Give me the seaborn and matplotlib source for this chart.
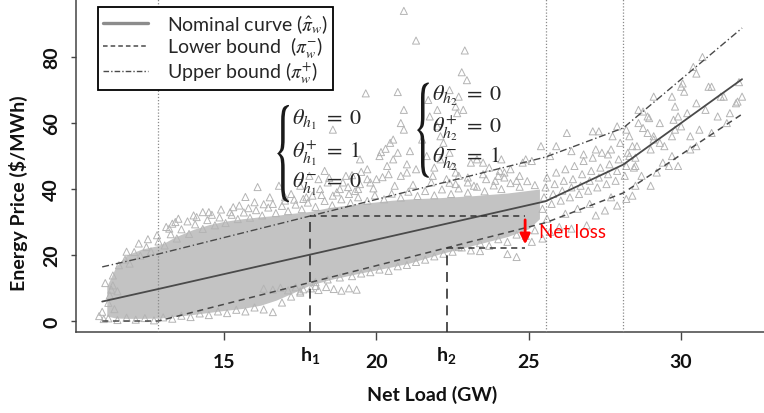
import matplotlib

matplotlib.use("Agg")

import matplotlib.pyplot as plt
import pandas as pd
import seaborn as sns
from matplotlib.font_manager import FontProperties
from matplotlib.lines import Line2D
from matplotlib.patches import PathPatch
from matplotlib.textpath import TextPath
from matplotlib.transforms import Affine2D

# piecewise price curves, knots at the dotted lines (GW, $/MWh)
BREAK_X = [11.0, 12.84, 25.55, 28.1, 32.0]
NOMINAL_Y = [5.9, 9.7, 36.3, 47.4, 73.3]
LOWER_Y = [0.0, 0.0, 29.8, 38.8, 62.7]
UPPER_Y = [16.4, 20.3, 49.7, 58.5, 88.8]

KNOTS = [12.84, 25.55, 28.1]
H1, H2 = 17.82, 22.3
H1_UPPER = 31.8
H2_LOWER = 22.1
LOSS_X = 24.88

X_TICKS = [15, 20, 25, 30]
Y_TICKS = [0, 20, 40, 60, 80]

# dense part of the scatter cloud (envelope)
CORE_X = [11.15, 11.45, 11.8, 12.3, 12.9, 13.4, 14.0, 14.5, 15.0, 15.6, 16.2, 16.7,
          17.2, 17.8, 18.5, 19.5, 20.5, 21.1, 22.1, 23.2, 24.3, 25.0, 25.35]
CORE_LO = [1.5, 0.9, 0.8, 0.8, 0.9, 1.4, 2.0, 2.6, 3.2, 3.8, 4.8, 6.3,
           8.3, 10.8, 12.6, 14.6, 16.4, 17.6, 20.4, 23.0, 25.6, 28.0, 31.0]
CORE_HI = [10.5, 16.5, 20.0, 21.8, 23.0, 25.5, 27.8, 29.2, 30.2, 31.0, 31.6, 32.0,
           32.6, 33.2, 34.5, 35.6, 36.6, 37.0, 37.4, 38.0, 38.8, 39.6, 40.0]

# individual observations (net load GW, price $/MWh)
PTS_LEFT = [(10.9, 1.5), (11.0, 2.8), (11.05, 0.6), (11.2, 5.5), (11.3, 9.5), (11.35, 10.8),
            (11.5, 9.0), (11.1, 11.5), (11.25, 7.8), (11.4, 3.6), (11.8, 21.0), (12.2, 23.5),
            (12.5, 24.8), (12.8, 26.0)]
PTS_TOP = [(11.35, 13.8), (11.55, 16.9), (11.75, 18.6), (11.9, 17.4), (12.05, 20.9), (12.25, 19.8),
           (12.45, 22.4), (12.6, 21.1), (12.85, 24.1), (13.05, 22.9), (13.25, 26.3), (13.45, 25.0),
           (13.6, 27.8), (13.85, 26.4), (14.05, 29.3), (14.3, 27.9), (14.45, 30.6), (14.7, 29.0),
           (14.85, 31.4), (15.05, 29.7), (15.25, 32.2), (15.45, 30.9), (15.65, 32.9), (15.85, 31.3),
           (16.05, 33.6), (16.25, 32.0), (16.45, 34.4), (16.7, 32.7), (16.9, 34.9), (17.1, 33.3),
           (17.35, 35.3), (17.55, 33.9), (17.75, 35.9), (18.0, 34.6), (18.3, 36.4), (18.55, 35.1),
           (18.85, 36.9), (19.15, 35.8), (19.4, 37.5), (19.7, 36.4), (19.95, 38.1), (20.25, 36.9),
           (20.5, 38.6), (20.8, 37.4), (21.05, 39.2), (21.35, 37.9), (21.6, 39.4), (21.9, 38.1),
           (22.15, 39.9), (22.45, 38.5), (22.7, 40.2), (23.0, 38.9), (23.3, 40.7), (23.55, 39.3),
           (23.85, 41.1), (24.1, 40.0), (24.4, 41.8), (24.7, 40.7), (24.95, 42.4), (25.2, 41.2)]
PTS_ABOVE = [(13.2, 28.0), (13.4, 30.0), (14.0, 32.0), (14.5, 33.0), (15.3, 34.5), (15.7, 37.6),
             (16.1, 40.6), (16.6, 35.5), (16.8, 41.0), (17.0, 37.5), (17.2, 38.5), (17.5, 41.0),
             (17.6, 37.0), (17.8, 44.0), (17.9, 38.0), (18.1, 43.0), (18.15, 40.0), (18.4, 42.0),
             (18.45, 43.4), (18.57, 38.0), (18.8, 40.0), (18.9, 42.0), (19.0, 44.0), (19.07, 40.6),
             (19.1, 38.5), (19.2, 44.2), (19.4, 40.0), (19.46, 41.5), (19.46, 49.0), (19.7, 43.0),
             (19.7, 46.0), (19.8, 42.0), (20.0, 43.0), (20.1, 50.0), (20.15, 51.2), (20.2, 43.6),
             (20.3, 52.2), (20.35, 47.0), (20.4, 44.5), (20.45, 54.0), (20.55, 49.0), (20.55, 55.0),
             (20.7, 51.0), (20.8, 44.0), (20.8, 60.0), (21.0, 45.0), (21.1, 51.5), (21.3, 46.0),
             (21.5, 55.0), (21.65, 50.0), (21.85, 44.0), (22.0, 59.0), (22.1, 49.0), (22.1, 56.0),
             (22.2, 54.0), (22.3, 43.0), (22.4, 51.0), (22.5, 47.0), (22.6, 45.0), (22.6, 41.5),
             (22.7, 44.0), (23.0, 42.0), (23.1, 48.0), (23.2, 41.0), (23.3, 49.0), (23.5, 48.0),
             (23.6, 43.0), (23.9, 42.5), (24.0, 44.0), (24.05, 45.5), (24.1, 49.0), (24.2, 43.5),
             (24.4, 46.0), (24.6, 42.5), (24.8, 48.0), (24.9, 49.0), (25.1, 48.5), (25.4, 53.0),
             (25.7, 50.0), (25.9, 53.0), (13.1, 28.5), (13.3, 29.5), (13.5, 31.0), (13.8, 30.2),
             (14.1, 31.5), (14.3, 33.0), (14.6, 32.2), (14.9, 33.8), (15.2, 33.0), (15.5, 35.0),
             (15.8, 34.2), (16.0, 36.0), (16.3, 35.4), (16.5, 37.5), (17.0, 36.5), (17.3, 36.8),
             (17.7, 37.5), (18.2, 38.2), (18.7, 39.0), (19.3, 39.4), (19.9, 40.2), (20.6, 41.0),
             (21.2, 41.3), (21.8, 42.0), (22.4, 41.9), (23.0, 43.5), (23.5, 44.5), (24.2, 45.0),
             (24.7, 44.0), (19.5, 45.2), (21.0, 47.5), (21.9, 46.5), (23.7, 46.5), (18.3, 45.5)]
PTS_HIGH = [(18.57, 58.0), (19.65, 69.0), (20.7, 69.4), (20.9, 58.0), (20.9, 64.0), (20.9, 94.0),
            (21.3, 85.0), (21.7, 67.0), (21.75, 62.0), (22.0, 64.0), (22.4, 70.0), (22.6, 65.0),
            (22.65, 63.0), (22.7, 68.0), (22.8, 75.4), (22.85, 64.0), (22.9, 82.0), (22.97, 73.0)]
PTS_BOTTOM = [(11.2, 0.8), (11.5, 0.3), (11.8, 1.0), (12.1, 0.4), (12.4, 0.9), (12.7, 0.2),
              (13.0, 1.1), (13.3, 0.7), (13.6, 1.6), (13.9, 1.2), (14.2, 2.3), (14.5, 1.8),
              (14.8, 2.9), (15.1, 2.4), (15.4, 3.4), (15.7, 2.9), (16.0, 4.1), (16.3, 3.5),
              (16.6, 2.7), (16.9, 5.6), (17.2, 7.4), (17.5, 8.6), (18.0, 11.8), (18.4, 12.6),
              (18.8, 13.2), (19.2, 13.6), (19.5, 14.4), (19.8, 14.8), (20.1, 15.6), (20.4, 15.2),
              (20.7, 16.6), (21.0, 17.0), (21.3, 17.9), (21.6, 18.6), (21.9, 19.6), (22.2, 20.4),
              (22.5, 21.0), (22.8, 22.3), (23.1, 21.4), (23.4, 23.6), (23.7, 22.8), (24.0, 24.8),
              (24.3, 24.0), (24.6, 26.2), (24.9, 25.8), (25.2, 27.5), (24.3, 20.3), (24.6, 19.4),
              (23.4, 21.2), (22.7, 22.4)]
PTS_TAIL = [(16.3, 9.8), (16.6, 9.5), (16.85, 10.1), (17.1, 9.3), (17.35, 10.2), (17.6, 9.6),
            (17.85, 9.9), (18.1, 9.4), (18.35, 10.3), (18.6, 9.7), (18.85, 9.2), (19.1, 9.9),
            (19.35, 9.5), (17.5, 9.0), (18.0, 10.6)]
PTS_RIGHT = [(25.45, 34.0), (25.5, 37.5), (25.55, 40.5), (25.6, 43.5), (25.75, 35.5), (25.8, 38.5),
             (25.85, 41.5), (25.9, 45.0), (26.05, 36.5), (26.1, 39.5), (26.15, 42.5), (26.2, 46.0),
             (26.35, 37.5), (26.4, 40.5), (26.45, 43.0), (26.5, 47.0), (26.65, 38.5), (26.7, 41.0),
             (26.75, 44.5), (26.8, 48.5), (26.95, 39.5), (27.0, 42.5), (27.05, 45.5), (27.1, 49.5),
             (27.25, 40.5), (27.3, 43.5), (27.35, 46.5), (27.4, 51.0), (27.55, 41.5), (27.6, 44.5),
             (27.65, 47.5), (27.7, 52.0), (27.85, 42.5), (27.9, 45.5), (27.95, 49.0), (28.0, 54.0),
             (28.15, 44.0), (28.2, 47.0), (28.25, 51.0), (28.3, 56.0), (28.45, 46.5), (28.5, 49.5),
             (28.55, 53.0), (26.25, 57.0), (27.1, 57.5), (27.3, 57.5), (27.75, 56.0), (26.4, 51.5),
             (26.8, 50.5), (27.2, 52.0), (27.6, 50.5), (25.1, 24.0), (25.45, 25.0), (25.7, 27.0),
             (26.0, 28.5), (26.4, 28.0), (26.9, 29.0), (27.2, 32.0), (27.5, 33.5), (27.9, 35.0),
             (28.2, 37.0), (28.4, 38.0), (25.6, 31.0), (26.2, 32.5), (26.6, 34.0), (27.0, 35.5),
             (27.7, 37.5)]
PTS_FAR = [(28.6, 64.0), (28.75, 63.5), (28.9, 62.0), (28.95, 61.5), (28.6, 60.0), (28.75, 58.5),
           (28.9, 57.0), (29.1, 56.0), (29.3, 54.0), (29.45, 53.0), (29.1, 55.0), (30.0, 59.0),
           (30.3, 56.0), (30.5, 53.0), (29.7, 50.0), (29.4, 48.0), (29.9, 47.0), (29.2, 45.0),
           (29.0, 41.0), (29.1, 68.0), (29.7, 68.0), (29.8, 65.0), (29.9, 62.0), (29.75, 61.0),
           (29.8, 58.0), (29.7, 56.0), (30.05, 72.0), (30.1, 69.5), (30.0, 71.0), (30.4, 77.0),
           (30.5, 75.0), (30.7, 80.0), (30.8, 64.0), (30.9, 71.0), (31.0, 71.0), (31.3, 68.0),
           (31.4, 68.0), (31.8, 66.0), (31.85, 66.5), (31.9, 72.4), (32.0, 68.0), (30.5, 66.0),
           (30.2, 63.0), (31.2, 62.0), (31.5, 60.0), (30.6, 58.0), (31.0, 57.0), (31.6, 63.0),
           (30.3, 52.0), (29.6, 47.0), (28.5, 41.0), (28.7, 44.0), (28.3, 50.0), (28.5, 47.0),
           (28.4, 53.0), (29.3, 60.0), (29.0, 52.0), (28.2, 58.0), (27.9, 59.0)]


def draw_brace(ax, x_left, x_right, y_top, y_bot):
    tp = TextPath((0, 0), "{", size=30, prop=FontProperties(family="STIXGeneral"))
    bb = tp.get_extents()
    (x0, y0), (x1, y1) = ax.transData.transform([(x_left, y_bot), (x_right, y_top)])
    tr = (Affine2D().translate(-bb.x0, -bb.y0)
          .scale((x1 - x0) / bb.width, (y1 - y0) / bb.height)
          .translate(x0, y0))
    ax.add_artist(PathPatch(tp, transform=tr, facecolor="#1a1a1a", lw=0, zorder=6))


def main() -> None:
    sns.set_theme(style="white")
    plt.rcParams.update({
        "font.family": ["Lato", "DejaVu Sans"],
        "mathtext.fontset": "custom",
        "mathtext.rm": "Lato",
        "mathtext.it": "Lato:italic",
        "mathtext.bf": "Lato:bold",
    })

    groups = [PTS_LEFT, PTS_TOP, PTS_ABOVE, PTS_HIGH, PTS_BOTTOM, PTS_TAIL, PTS_RIGHT, PTS_FAR]
    pts = pd.DataFrame([p for g in groups for p in g], columns=["load", "price"])

    fig = plt.figure(figsize=(7.64, 4.14), dpi=100)
    ax = fig.add_axes([76 / 764, 1 - 333 / 414, 688 / 764, 333 / 414])
    ax.set_xlim(10.14, 32.72)
    ax.set_ylim(-3.33, 97.6)

    ax.fill_between(CORE_X, CORE_LO, CORE_HI, color="#c3c3c3", lw=0, zorder=1)
    sns.scatterplot(data=pts, x="load", y="price", marker="^", s=26, facecolor="none",
                    edgecolor="#b4b4b4", linewidth=0.7, legend=False, ax=ax, zorder=2)

    for k in KNOTS:
        ax.axvline(k, color="#8a8a8a", lw=0.9, ls=(0, (1, 1.5)), zorder=3)

    sns.lineplot(x=BREAK_X, y=NOMINAL_Y, color="#4a4a4a", lw=1.3, ax=ax, zorder=4)
    sns.lineplot(x=BREAK_X, y=LOWER_Y, color="#4a4a4a", lw=1.1, ls=(0, (4, 3)), ax=ax, zorder=4)
    sns.lineplot(x=BREAK_X, y=UPPER_Y, color="#4a4a4a", lw=1.0, ls=(0, (5, 2, 1, 2)), ax=ax, zorder=4)

    ybot = ax.get_ylim()[0]
    ax.vlines([H1], ybot, H1_UPPER, color="#333333", lw=1.2, ls=(0, (6, 4)), zorder=5)
    ax.vlines([H2], ybot, H2_LOWER, color="#333333", lw=1.2, ls=(0, (6, 4)), zorder=5)
    ax.hlines([H1_UPPER], H1, LOSS_X, color="#333333", lw=1.1, ls=(0, (4, 3)), zorder=5)
    ax.hlines([H2_LOWER], H2, LOSS_X, color="#333333", lw=1.1, ls=(0, (4, 3)), zorder=5)
    ax.annotate("", xy=(LOSS_X, H2_LOWER + 0.3), xytext=(LOSS_X, H1_UPPER - 0.3),
                arrowprops=dict(arrowstyle="-|>", color="red", lw=2, mutation_scale=15), zorder=6)
    ax.text(25.35, 27.0, "Net loss", color="red", fontsize=13.5, va="center", zorder=6)

    # regime annotations
    rows1 = [r"$\theta_{h_1}\ =\ 0$", r"$\theta_{h_1}^{+}\ =\ 1$", r"$\theta_{h_1}^{-}\ =\ 0$"]
    rows2 = [r"$\theta_{h_2}\ =\ 0$", r"$\theta_{h_2}^{+}\ =\ 0$", r"$\theta_{h_2}^{-}\ =\ 1$"]
    for txt, yy in zip(rows1, [61.2, 51.0, 41.8]):
        ax.text(17.23, yy, txt, fontsize=16, math_fontfamily="stix", va="center", zorder=6)
    for txt, yy in zip(rows2, [68.4, 58.6, 49.3]):
        ax.text(21.82, yy, txt, fontsize=16, math_fontfamily="stix", va="center", zorder=6)
    draw_brace(ax, 16.74, 17.13, 65.5, 36.0)
    draw_brace(ax, 21.33, 21.72, 72.3, 43.4)

    # axes styling
    for side in ["top", "right"]:
        ax.spines[side].set_visible(False)
    for side in ["left", "bottom"]:
        ax.spines[side].set_color("#444444")
        ax.spines[side].set_linewidth(1.1)

    ax.set_xticks(X_TICKS)
    ax.set_xticklabels([str(t) for t in X_TICKS])
    ax.set_xticks([H1, H2], minor=True)
    ax.set_xticklabels([r"$\mathbf{h}_\mathbf{1}$", r"$\mathbf{h}_\mathbf{2}$"], minor=True)
    ax.set_yticks(Y_TICKS)
    ax.set_yticklabels([str(t) for t in Y_TICKS])
    ax.tick_params(axis="x", which="major", length=6, width=1, color="#444444", pad=9,
                   labelsize=14, bottom=True)
    ax.tick_params(axis="x", which="minor", length=0, pad=9, labelsize=14, bottom=True)
    ax.tick_params(axis="y", length=3.5, width=1, color="#444444", pad=8, labelsize=14,
                   labelrotation=90, left=True)
    for lbl in ax.get_xticklabels() + ax.get_xticklabels(minor=True) + ax.get_yticklabels():
        lbl.set_fontweight("bold")
        lbl.set_color("#111111")
    for lbl in ax.get_yticklabels():
        lbl.set_va("center")

    ax.set_xlabel("Net Load (GW)", fontsize=14, fontweight="bold", color="#111111")
    ax.set_ylabel("Energy Price ($/MWh)", fontsize=14, fontweight="bold", color="#111111")
    ax.xaxis.set_label_coords(0.517, -0.158)
    ax.yaxis.set_label_coords(-0.07, 0.42)

    handles = [
        Line2D([0], [0], color="#8c8c8c", lw=2.4),
        Line2D([0], [0], color="#4a4a4a", lw=1.1, ls=(0, (3, 2))),
        Line2D([0], [0], color="#4a4a4a", lw=1.0, ls=(0, (4, 1.5, 1, 1.5))),
    ]
    labels = [r"Nominal curve ($\hat{\pi}_w$)", r"Lower bound  ($\pi_w^{-}$)",
              r"Upper bound ($\pi_w^{+}$)"]
    leg = ax.legend(handles, labels, loc="upper left", bbox_to_anchor=(0.032, 0.976),
                    borderaxespad=0, frameon=True, fancybox=False, framealpha=1,
                    edgecolor="black", handlelength=2.3, handletextpad=1.0,
                    labelspacing=0.0, borderpad=0.25,
                    prop=FontProperties(family="Lato", size=14, math_fontfamily="stix"))
    leg.get_frame().set_linewidth(1.3)
    leg.set_zorder(10)

    fig.savefig("out.png", dpi=100, facecolor="white")
    plt.close(fig)


if __name__ == "__main__":
    main()
